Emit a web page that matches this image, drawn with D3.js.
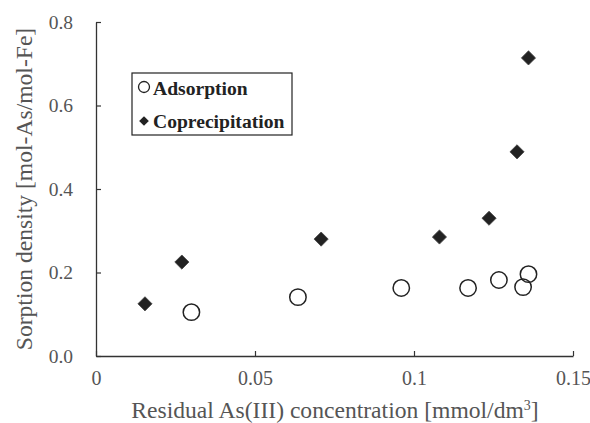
<!DOCTYPE html>
<html>
<head>
<meta charset="utf-8">
<script src="https://cdn.jsdelivr.net/npm/d3@7/dist/d3.min.js"></script>
<style>
  html, body { margin: 0; padding: 0; background: #fff; }
  svg { display: block; }
  svg text { font-family: "Liberation Serif", "Times New Roman", "DejaVu Serif", serif !important; }
</style>
</head>
<body>
<svg id="chart" width="590" height="423"></svg>
<script>
// Residual As(III) concentration [mmol/dm3] vs sorption density [mol-As/mol-Fe]
const adsorptionX = [0.030, 0.0635, 0.096, 0.117, 0.1267, 0.1343, 0.136];
const adsorptionY = [0.105, 0.141, 0.163, 0.163, 0.182, 0.165, 0.196];
const coprecipX = [0.0154, 0.027, 0.0708, 0.108, 0.1236, 0.1324, 0.136];
const coprecipY = [0.125, 0.225, 0.280, 0.285, 0.330, 0.489, 0.714];
const xTicks = [0, 0.05, 0.1, 0.15];
const xTickLabels = ["0", "0.05", "0.1", "0.15"];
const yTicks = [0, 0.2, 0.4, 0.6, 0.8];
const yTickLabels = ["0.0", "0.2", "0.4", "0.6", "0.8"];
const seriesNames = ["Adsorption", "Coprecipitation"];

const svg = d3.select("#chart");
const margin = { left: 96, right: 17, top: 22, bottom: 67 };
const W = 590, H = 423;
const serif = "'Liberation Serif', 'Times New Roman', serif";

const x = d3.scaleLinear().domain([0, 0.15]).range([margin.left, W - margin.right]);
const y = d3.scaleLinear().domain([0, 0.8]).range([H - margin.bottom, margin.top]);

const axisColor = "#333";
const labelColor = "#555";

// x axis with inward ticks
const gx = svg.append("g").attr("transform", `translate(0,${y(0)})`)
  .call(d3.axisBottom(x).tickValues(xTicks).tickSizeInner(-5).tickSizeOuter(0)
    .tickFormat((d, i) => xTickLabels[i]).tickPadding(15));
gx.attr("font-family", serif);
gx.select(".domain").attr("stroke", axisColor).attr("stroke-width", 1.3);
gx.selectAll(".tick line").attr("stroke", axisColor).attr("stroke-width", 1.2);
gx.selectAll(".tick text").attr("fill", labelColor).style("font-size", "20px");

// y axis with inward ticks
const gy = svg.append("g").attr("transform", `translate(${x(0)},0)`)
  .call(d3.axisLeft(y).tickValues(yTicks).tickSizeInner(-5).tickSizeOuter(0)
    .tickFormat((d, i) => yTickLabels[i]).tickPadding(23));
gy.attr("font-family", serif);
gy.select(".domain").attr("stroke", axisColor).attr("stroke-width", 1.3);
gy.selectAll(".tick line").attr("stroke", axisColor).attr("stroke-width", 1.2);
gy.selectAll(".tick text").attr("fill", labelColor).style("font-size", "19.5px");

// axis titles
const xt = svg.append("text")
  .attr("x", 335).attr("y", 418)
  .attr("text-anchor", "middle")
  .attr("fill", labelColor)
  .style("font-size", "23.6px");
xt.append("tspan").text("Residual As(III) concentration [mmol/dm");
xt.append("tspan").text("3").attr("dy", -8).style("font-size", "14px");
xt.append("tspan").text("]").attr("dy", 8);

svg.append("text")
  .attr("transform", `translate(32,${(y(0) + y(0.8)) / 2}) rotate(-90)`)
  .attr("text-anchor", "middle")
  .attr("fill", labelColor)
  .style("font-size", "23.6px")
  .text("Sorption density [mol-As/mol-Fe]");

// points
const diamond = d3.symbol().type(d3.symbolDiamond2).size(128);

svg.append("g").selectAll("path")
  .data(coprecipX.map((v, i) => [v, coprecipY[i]]))
  .join("path")
  .attr("d", diamond)
  .attr("transform", d => `translate(${x(d[0])},${y(d[1])})`)
  .attr("fill", "#222")
  .attr("stroke", "#444")
  .attr("stroke-width", 0.8);

svg.append("g").selectAll("circle")
  .data(adsorptionX.map((v, i) => [v, adsorptionY[i]]))
  .join("circle")
  .attr("cx", d => x(d[0]))
  .attr("cy", d => y(d[1]))
  .attr("r", 8.2)
  .attr("fill", "none")
  .attr("stroke", "#222")
  .attr("stroke-width", 1.5);

// legend
const lg = svg.append("g");
lg.append("rect")
  .attr("x", 132).attr("y", 73).attr("width", 160).attr("height", 62)
  .attr("fill", "#fff").attr("stroke", "#222").attr("stroke-width", 1.2);
lg.append("circle").attr("cx", 144).attr("cy", 87).attr("r", 5.5)
  .attr("fill", "none").attr("stroke", "#222").attr("stroke-width", 1.3);
lg.append("path").attr("d", d3.symbol().type(d3.symbolDiamond2).size(60))
  .attr("transform", "translate(144,121)").attr("fill", "#222");
lg.selectAll("text.lab")
  .data(seriesNames)
  .join("text")
  .attr("class", "lab")
  .attr("x", 153)
  .attr("y", (d, i) => 95 + i * 33)
  .attr("fill", "#222")
  .style("font-size", "19.6px")
  .style("font-weight", "bold")
  .text(d => d);
</script>
</body>
</html>
